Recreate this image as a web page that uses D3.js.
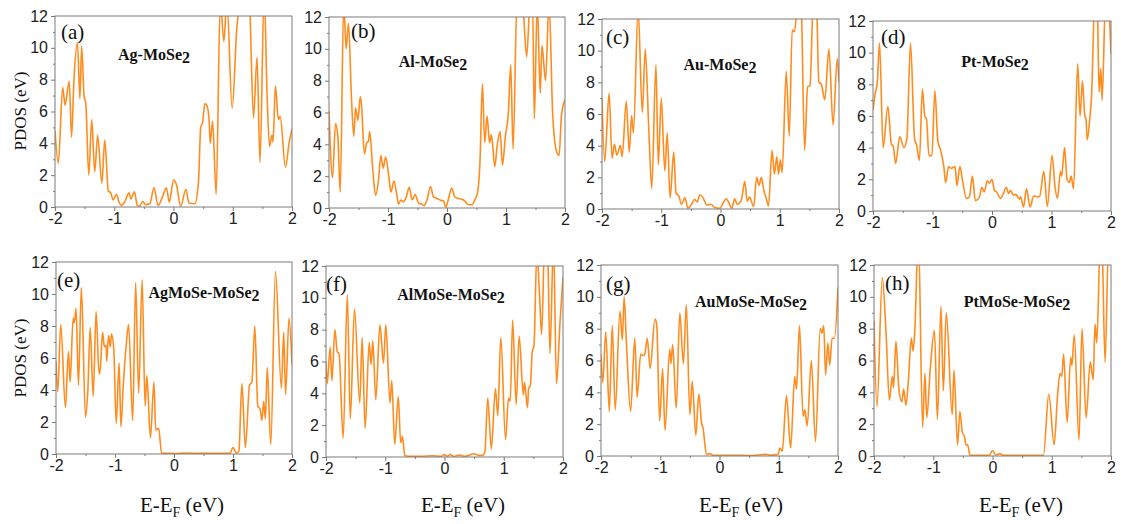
<!DOCTYPE html>
<html>
<head>
<meta charset="utf-8">
<script src="https://cdn.jsdelivr.net/npm/d3@7.9.0/dist/d3.min.js"></script>
<style>
  body { margin: 0; background: #fff; }
  svg { display: block; }
</style>
</head>
<body>
<div id="chart"></div>
<script>
// PDOS values: [E - E_F (eV), PDOS]
const pdosA = [[-2.0,4.8],[-1.944,2.75],[-1.87,7.5],[-1.83,6.4],[-1.76,7.9],[-1.72,4.4],[-1.68,8.0],[-1.62,10.3],[-1.58,6.8],[-1.55,10.1],[-1.51,7.0],[-1.48,6.5],[-1.43,2.0],[-1.38,5.5],[-1.33,2.2],[-1.28,4.5],[-1.21,1.5],[-1.16,4.2],[-1.10,1.0],[-1.06,0.9],[-1.02,0.45],[-0.96,0.8],[-0.92,0.3],[-0.88,0.1],[-0.82,0.35],[-0.75,0.9],[-0.72,0.5],[-0.66,0.95],[-0.61,0.1],[-0.57,0.05],[-0.52,0.35],[-0.47,0.15],[-0.40,0.2],[-0.33,1.2],[-0.26,0.1],[-0.19,0.6],[-0.12,1.2],[-0.07,0.3],[0.0,1.7],[0.05,1.4],[0.12,0.05],[0.21,1.1],[0.26,0.25],[0.36,0.2],[0.42,1.5],[0.46,5.0],[0.49,5.3],[0.53,6.5],[0.57,6.3],[0.6,5.5],[0.62,4.0],[0.66,5.4],[0.72,0.8],[0.79,13],[0.85,10.4],[0.9,13],[0.99,6.2],[1.07,11.3],[1.13,13],[1.2,14],[1.28,13],[1.35,5.6],[1.41,9.4],[1.46,2.8],[1.53,13.5],[1.58,7],[1.62,3.8],[1.66,4.5],[1.68,4.1],[1.72,7.6],[1.77,5.5],[1.8,5.7],[1.89,2.5],[1.95,4.0],[2.0,4.9]];
const pdosB = [[-2.0,6.1],[-1.94,1.9],[-1.89,5.3],[-1.85,4.5],[-1.81,1.0],[-1.75,13],[-1.71,10.0],[-1.67,11.6],[-1.62,7],[-1.58,4.5],[-1.55,6.3],[-1.51,5.5],[-1.47,7.0],[-1.45,6.5],[-1.40,3.4],[-1.36,4.1],[-1.33,4.2],[-1.31,4.8],[-1.26,2.5],[-1.21,0.8],[-1.16,1.8],[-1.12,3.3],[-1.08,2.5],[-1.04,3.2],[-0.99,2.1],[-0.95,1.0],[-0.90,1.7],[-0.85,0.8],[-0.82,0.25],[-0.78,0.5],[-0.74,0.4],[-0.69,0.7],[-0.64,1.3],[-0.59,0.5],[-0.54,0.85],[-0.48,0.3],[-0.43,0.25],[-0.39,0.15],[-0.34,0.5],[-0.28,1.35],[-0.23,0.7],[-0.17,0.6],[-0.12,0.5],[-0.06,0.45],[-0.02,0.05],[0.02,0.5],[0.08,1.25],[0.13,0.7],[0.19,0.6],[0.25,0.55],[0.30,0.45],[0.36,0.2],[0.42,0.2],[0.47,0.5],[0.52,1.0],[0.56,3],[0.60,7.8],[0.64,4.1],[0.68,5.8],[0.72,4.1],[0.75,4.6],[0.77,4.1],[0.81,2.6],[0.85,3.9],[0.90,4.8],[0.94,2.7],[0.99,4.5],[1.04,6],[1.08,9.0],[1.12,3.7],[1.19,13.5],[1.28,13],[1.35,9.5],[1.41,13],[1.45,13],[1.48,5.6],[1.53,13],[1.58,7.2],[1.61,10.2],[1.67,8.0],[1.73,13],[1.79,6],[1.86,3.5],[1.90,3.3],[1.94,5.8],[2.0,6.8]];
const pdosC = [[-2.0,7.0],[-1.955,3.0],[-1.88,7.3],[-1.83,3.2],[-1.79,4.1],[-1.75,3.4],[-1.69,4.0],[-1.66,3.3],[-1.59,6.8],[-1.54,3.6],[-1.50,5.9],[-1.47,4.8],[-1.39,12.6],[-1.32,6.1],[-1.27,10.1],[-1.21,5],[-1.16,1.3],[-1.09,9.1],[-1.05,2.8],[-1.0,7.0],[-0.94,2.4],[-0.90,4.8],[-0.85,0.7],[-0.79,3.6],[-0.75,1.0],[-0.70,0.8],[-0.66,0.3],[-0.60,0.7],[-0.55,0.05],[-0.49,0.3],[-0.44,0.6],[-0.39,0.45],[-0.35,0.9],[-0.30,0.75],[-0.23,0.25],[-0.16,0.3],[-0.10,0.1],[-0.01,0.05],[0.04,0.35],[0.10,0.65],[0.14,0.4],[0.19,0.05],[0.24,0.65],[0.28,0.3],[0.35,0.55],[0.41,1.75],[0.45,0.5],[0.49,0.75],[0.56,0.15],[0.61,2.0],[0.65,1.5],[0.69,2.0],[0.73,1.2],[0.77,0.7],[0.81,0.2],[0.87,3.7],[0.91,2.2],[0.95,3.3],[0.98,2.2],[1.01,3.1],[1.04,2.3],[1.11,8.7],[1.16,4.6],[1.21,11.3],[1.25,11.2],[1.31,13.5],[1.36,13],[1.42,3.7],[1.47,7.7],[1.51,7.8],[1.57,13.5],[1.62,13],[1.66,8],[1.70,7.9],[1.76,6.9],[1.83,10.1],[1.90,5.3],[1.97,9.5],[2.0,8]];
const pdosD = [[-2.0,6.4],[-1.96,7.5],[-1.93,8.0],[-1.89,10.6],[-1.83,4.0],[-1.75,6.6],[-1.69,4.2],[-1.66,4.1],[-1.62,3.0],[-1.55,4.7],[-1.48,4.0],[-1.43,4.6],[-1.37,10.6],[-1.30,4.5],[-1.27,4.2],[-1.22,3.2],[-1.17,7.7],[-1.13,6.0],[-1.10,5.8],[-1.06,3.5],[-1.01,3.5],[-0.96,7.6],[-0.91,4.4],[-0.86,3.8],[-0.81,2.8],[-0.78,1.8],[-0.73,2.8],[-0.69,2.7],[-0.62,2.8],[-0.59,1.6],[-0.54,2.8],[-0.49,1.8],[-0.43,0.8],[-0.38,0.9],[-0.33,2.2],[-0.28,0.65],[-0.21,0.9],[-0.17,1.5],[-0.13,1.2],[-0.08,1.9],[-0.04,1.75],[0.0,2.0],[0.04,1.3],[0.08,1.2],[0.14,0.8],[0.18,1.0],[0.24,1.5],[0.28,1.1],[0.31,1.3],[0.36,1.0],[0.40,1.05],[0.46,0.75],[0.48,0.9],[0.53,0.25],[0.58,1.4],[0.64,0.25],[0.70,0.95],[0.75,0.9],[0.80,0.9],[0.87,2.5],[0.93,0.3],[1.01,3.5],[1.06,1.5],[1.10,0.8],[1.15,2.5],[1.17,2.2],[1.22,4.0],[1.26,2.0],[1.30,1.8],[1.33,2.2],[1.37,1.4],[1.44,9.3],[1.48,6.0],[1.52,8.2],[1.56,6.0],[1.58,5.8],[1.60,4.5],[1.65,6.1],[1.67,7],[1.73,13.5],[1.77,13],[1.80,7.5],[1.83,9],[1.85,7],[1.91,13.5],[1.96,13],[2.0,9.9]];
const pdosE = [[-2.0,5.8],[-1.97,3.9],[-1.92,8.1],[-1.84,2.9],[-1.79,6.4],[-1.76,4.5],[-1.71,8.5],[-1.69,8.2],[-1.66,9.1],[-1.62,4.3],[-1.57,10.4],[-1.50,2.3],[-1.46,4.0],[-1.42,7.9],[-1.37,3.6],[-1.32,8.9],[-1.27,5.0],[-1.25,5.3],[-1.21,7.6],[-1.18,6.7],[-1.15,6.8],[-1.14,5.8],[-1.11,7.4],[-1.08,6.7],[-1.06,7.5],[-1.02,6.5],[-0.98,1.9],[-0.93,5.7],[-0.90,1.7],[-0.86,4.3],[-0.81,6.8],[-0.77,8.1],[-0.70,2.1],[-0.65,10.7],[-0.60,3.8],[-0.54,10.9],[-0.49,3.0],[-0.46,4.9],[-0.40,1.0],[-0.34,4.5],[-0.31,1.5],[-0.26,1.6],[-0.21,0.05],[-0.1,0.05],[0.0,0.03],[0.2,0.06],[0.4,0.04],[0.6,0.05],[0.8,0.04],[0.95,0.05],[1.0,0.4],[1.06,0.05],[1.10,0.2],[1.15,4.4],[1.21,0.4],[1.28,4.3],[1.32,4.5],[1.37,8.0],[1.42,3.0],[1.46,2.8],[1.49,2.1],[1.52,3.3],[1.55,2.2],[1.58,5.4],[1.64,0.6],[1.72,11.4],[1.82,4.1],[1.86,7.6],[1.89,3.7],[1.95,8.5],[2.0,5.6]];
const pdosF = [[-2.0,6],[-1.98,4.6],[-1.93,6.9],[-1.90,4.8],[-1.85,8.0],[-1.81,6.6],[-1.78,6.5],[-1.71,1.2],[-1.64,10.2],[-1.59,2.4],[-1.52,9.3],[-1.43,3.4],[-1.39,7.5],[-1.34,1.8],[-1.27,7.2],[-1.24,5.8],[-1.21,7.3],[-1.16,3.6],[-1.09,8.3],[-1.03,5.9],[-0.99,8.3],[-0.92,3.4],[-0.89,4.8],[-0.84,0.8],[-0.78,3.8],[-0.74,0.9],[-0.71,1.3],[-0.67,0.1],[-0.61,0.05],[-0.4,0.05],[-0.2,0.08],[-0.05,0.05],[0.0,0.15],[0.05,0.05],[0.1,0.15],[0.15,0.05],[0.25,0.12],[0.35,0.05],[0.5,0.2],[0.58,0.1],[0.64,0.1],[0.68,0.3],[0.73,3.7],[0.79,0.5],[0.86,4.3],[0.90,2.6],[0.95,7.5],[1.03,1.1],[1.08,3.7],[1.11,3.5],[1.15,8.6],[1.21,3.3],[1.26,7.6],[1.33,3.9],[1.35,4.7],[1.40,3.1],[1.42,4.3],[1.45,4.5],[1.48,6.6],[1.51,7],[1.56,13],[1.60,10.5],[1.64,7.7],[1.69,13.5],[1.74,13],[1.78,6.5],[1.84,13.5],[1.89,4.6],[1.95,8.5],[2.0,11.3]];
const pdosG = [[-2.0,6.4],[-1.97,4.6],[-1.92,7.8],[-1.86,2.8],[-1.81,8.2],[-1.76,2.9],[-1.68,9.1],[-1.64,7.3],[-1.61,10.0],[-1.57,7],[-1.50,2.8],[-1.43,7.4],[-1.39,3.7],[-1.33,6.4],[-1.29,6.3],[-1.26,6.4],[-1.22,7.4],[-1.17,5.5],[-1.09,8.6],[-1.06,8.3],[-1.01,2.2],[-0.96,5.5],[-0.92,1.6],[-0.84,6.7],[-0.82,5.8],[-0.79,7.0],[-0.73,3.0],[-0.67,9.0],[-0.61,5.8],[-0.56,9.5],[-0.50,2.6],[-0.46,4.7],[-0.40,1.3],[-0.35,3.9],[-0.30,2.0],[-0.28,1.8],[-0.22,0.1],[-0.16,0.15],[-0.11,0.05],[0.1,0.04],[0.3,0.05],[0.5,0.03],[0.79,0.1],[0.85,0.05],[0.99,0.1],[1.02,0.5],[1.06,0.3],[1.13,3.8],[1.20,0.5],[1.27,5.0],[1.30,4.2],[1.35,8.2],[1.41,2.5],[1.44,2.9],[1.48,1.9],[1.55,6.0],[1.62,0.9],[1.70,8.0],[1.73,7.7],[1.76,8.2],[1.79,5.1],[1.83,7.1],[1.86,5.7],[1.90,7.4],[1.94,7.4],[2.0,10.6]];
const pdosH = [[-2.0,8.5],[-1.95,3.1],[-1.86,11.2],[-1.80,8],[-1.74,3.5],[-1.69,5.0],[-1.67,4.3],[-1.63,7.2],[-1.58,4.2],[-1.53,3.4],[-1.50,4.2],[-1.46,3.2],[-1.42,4.7],[-1.37,7.4],[-1.34,6.6],[-1.31,8],[-1.25,14],[-1.18,1.8],[-1.14,5.2],[-1.11,2.4],[-1.05,5.5],[-0.98,7.9],[-0.93,2.3],[-0.87,9.4],[-0.83,4.1],[-0.78,9.0],[-0.68,2.6],[-0.65,5.4],[-0.59,0.7],[-0.55,2.8],[-0.51,1.5],[-0.47,1.2],[-0.45,0.7],[-0.42,0.7],[-0.38,0.05],[-0.26,0.05],[-0.15,0.05],[-0.05,0.05],[0.0,0.35],[0.06,0.05],[0.12,0.15],[0.18,0.05],[0.5,0.05],[0.86,0.05],[0.95,3.9],[1.04,0.7],[1.10,3.9],[1.14,5.2],[1.17,5.0],[1.20,6.4],[1.26,2.1],[1.32,6.2],[1.34,5.7],[1.38,7.6],[1.46,1.0],[1.51,8.0],[1.58,2.4],[1.65,5.9],[1.70,4.8],[1.73,8.3],[1.76,7.1],[1.82,13.5],[1.85,13],[1.90,5.9],[1.96,13.5],[2.0,13]];

const series = [pdosA, pdosB, pdosC, pdosD, pdosE, pdosF, pdosG, pdosH];
const letters = ['a', 'b', 'c', 'd', 'e', 'f', 'g', 'h'];
const systems = ['Ag-MoSe', 'Al-MoSe', 'Au-MoSe', 'Pt-MoSe',
                 'AgMoSe-MoSe', 'AlMoSe-MoSe', 'AuMoSe-MoSe', 'PtMoSe-MoSe'];
const xDomain = [-2, 2];
const yDomain = [0, 12];
const xTicks = [-2, -1, 0, 1, 2];
const xMinor = [-1.5, -0.5, 0.5, 1.5];
const yTicks = [0, 2, 4, 6, 8, 10, 12];
const yMinor = [1, 3, 5, 7, 9, 11];

// layout: plot boxes [left, top, right, bottom]
const boxes = [
  [55, 16, 292, 207], [329, 17, 565, 208], [602, 19, 839, 209], [873, 21, 1111, 211],
  [56, 262, 292, 454], [326, 266, 563, 457], [601, 265, 838, 456], [874, 265, 1111, 456]
];
// title centre x and baseline y
const titlePos = [
  [154, 60], [433, 67], [720, 70], [995, 67],
  [204, 298], [451, 300], [751, 307], [1017, 307]
];
const labelPos = [
  [61, 39], [351, 38], [606, 44], [881, 44],
  [57, 287], [326, 291], [606, 291], [885, 290]
];
const xLabelCx = [182, 463, 741, 1021];

const W = 1121, H = 524;
const orange = '#ff8c1f';
const frameColor = '#7a7a7a';
const tickFmt = d => String(d);

const svg = d3.select('#chart').append('svg')
  .attr('width', W).attr('height', H)
  .attr('viewBox', `0 0 ${W} ${H}`);

series.forEach((data, i) => {
  const [x0, y0, x1, y1] = boxes[i];
  const x = d3.scaleLinear().domain(xDomain).range([x0, x1]);
  const y = d3.scaleLinear().domain(yDomain).range([y1, y0]);
  const g = svg.append('g');

  g.append('clipPath').attr('id', 'clip' + i)
    .append('rect').attr('x', x0).attr('y', y0)
    .attr('width', x1 - x0).attr('height', y1 - y0);

  const line = d3.line()
    .x(d => x(d[0]))
    .y(d => y(d[1]))
    .curve(d3.curveMonotoneX);

  g.append('path')
    .datum(data)
    .attr('clip-path', `url(#clip${i})`)
    .attr('d', line)
    .attr('fill', 'none')
    .attr('stroke', orange)
    .attr('stroke-width', 1.6)
    .attr('stroke-linejoin', 'round');

  // axes
  g.append('g').attr('transform', `translate(${x0},0)`)
    .call(d3.axisLeft(y).tickValues(yTicks).tickFormat(tickFmt)
      .tickSize(4).tickSizeOuter(0).tickPadding(3));
  g.append('g').attr('transform', `translate(${x0},0)`)
    .call(d3.axisLeft(y).tickValues(yMinor).tickSize(2).tickSizeOuter(0).tickFormat(''));
  g.append('g').attr('transform', `translate(0,${y1})`)
    .call(d3.axisBottom(x).tickValues(xTicks).tickFormat(tickFmt)
      .tickSize(4).tickSizeOuter(0).tickPadding(2));
  g.append('g').attr('transform', `translate(0,${y1})`)
    .call(d3.axisBottom(x).tickValues(xMinor).tickSize(2).tickSizeOuter(0).tickFormat(''));

  g.selectAll('.domain').remove();
  g.selectAll('.tick line').attr('stroke', frameColor);
  g.selectAll('.tick text')
    .attr('fill', '#222')
    .style('font-family', '"Liberation Sans", Arial, sans-serif')
    .style('font-size', '16px');

  g.append('rect')
    .attr('x', x0).attr('y', y0)
    .attr('width', x1 - x0).attr('height', y1 - y0)
    .attr('fill', 'none')
    .attr('stroke', frameColor)
    .attr('stroke-width', 1);

  // panel letter
  g.append('text')
    .attr('x', labelPos[i][0]).attr('y', labelPos[i][1])
    .style('font-family', '"Liberation Serif", "Times New Roman", serif')
    .style('font-size', '21px')
    .attr('fill', '#111')
    .text(`(${letters[i]})`);

  // system name with subscript 2
  const t = g.append('text')
    .attr('x', titlePos[i][0]).attr('y', titlePos[i][1])
    .attr('text-anchor', 'middle')
    .style('font-family', '"Liberation Serif", "Times New Roman", serif')
    .style('font-size', '16px')
    .style('font-weight', 'bold')
    .attr('fill', '#111');
  t.append('tspan').text(systems[i]);
  t.append('tspan').attr('dy', 3).text('2');
});

// y axis titles
[[20, 111], [20, 358]].forEach(([cx, cy]) => {
  svg.append('text')
    .attr('transform', `translate(${cx},${cy}) rotate(-90)`)
    .attr('text-anchor', 'middle')
    .attr('dy', '0.35em')
    .style('font-family', '"Liberation Serif", "Times New Roman", serif')
    .style('font-size', '17px')
    .attr('fill', '#111')
    .text('PDOS (eV)');
});

// x axis titles
xLabelCx.forEach(cx => {
  const t = svg.append('text')
    .attr('x', cx).attr('y', 512)
    .attr('text-anchor', 'middle')
    .style('font-family', '"Liberation Serif", "Times New Roman", serif')
    .style('font-size', '21px')
    .attr('fill', '#111');
  t.append('tspan').text('E-E');
  t.append('tspan').attr('dy', 5).style('font-size', '14px').text('F');
  t.append('tspan').attr('dy', -5).text(' (eV)');
});
</script>
</body>
</html>
